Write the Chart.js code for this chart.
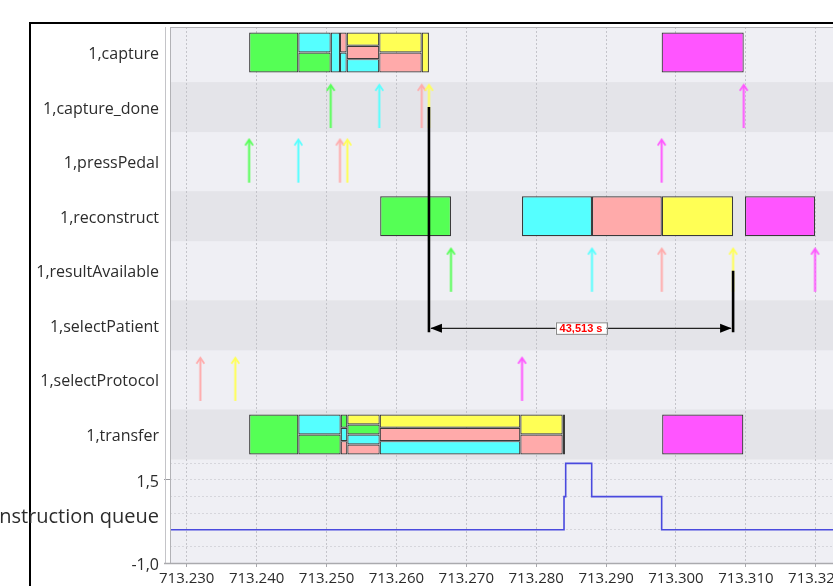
<!DOCTYPE html>
<html>
<head>
<meta charset="utf-8">
<title>Trace view</title>
<script src="https://cdn.jsdelivr.net/npm/chart.js@4/dist/chart.umd.min.js"></script>
<style>
  html, body { margin: 0; padding: 0; width: 833px; height: 586px; overflow: hidden; background: #fff; }
  #wrap { position: relative; width: 960px; height: 586px; }
  canvas { display: block; }
</style>
</head>
<body>
<div id="wrap"><canvas id="trace" width="960" height="586"></canvas></div>
<script>
// ---- data ---------------------------------------------------------------
const rowNames = ['1,capture', '1,capture_done', '1,pressPedal', '1,reconstruct',
                  '1,resultAvailable', '1,selectPatient', '1,selectProtocol', '1,transfer'];

// time slices of the shared resources: start, end, job ids from top lane to bottom lane
const captureSlices = [
  [713238.93, 713245.97, [0]],
  [713245.97, 713250.60, [1, 0]],
  [713250.60, 713251.93, [1]],
  [713251.93, 713252.89, [2, 1]],
  [713252.89, 713257.55, [3, 2, 1]],
  [713257.55, 713263.62, [3, 2]],
  [713263.62, 713264.657, [3]],
  [713297.95, 713309.69, [4]]
];
const transferSlices = [
  [713238.93, 713245.97, [0]],
  [713245.97, 713252.03, [1, 0]],
  [713252.03, 713252.98, [0, 1, 2]],
  [713252.98, 713257.61, [3, 0, 1, 2]],
  [713257.61, 713277.73, [3, 2, 1]],
  [713277.73, 713283.79, [3, 2]],
  [713283.79, 713284.12, [3]],
  [713298.02, 713309.63, [4]]
];
// reconstruct runs: start, end, job id
const reconstructRuns = [
  [713257.68, 713267.81, 0],
  [713277.97, 713287.98, 1],
  [713287.98, 713297.97, 2],
  [713297.97, 713308.17, 3],
  [713309.87, 713319.89, 4]
];
// events: time, job id
const captureDone     = [[713250.60, 0], [713257.55, 1], [713263.62, 2], [713264.657, 3], [713309.69, 4]];
const pressPedal      = [[713238.93, 0], [713245.97, 1], [713251.93, 2], [713252.98, 3], [713297.95, 4]];
const resultAvailable = [[713267.81, 0], [713287.98, 1], [713297.97, 2], [713308.17, 3], [713319.89, 4]];
const selectProtocol  = [[713231.95, 2], [713236.95, 3], [713277.97, 4]];

// reconstruction queue length over time
const queueTimes  = [713227.61, 713283.98, 713284.22, 713287.94, 713297.95, 713337.77];
const queueLevels = [0, 1, 2, 1, 0, 0];

const xTicks = [713230, 713240, 713250, 713260, 713270, 713280, 713290, 713300, 713310, 713320, 713330];
const queueTicks = [-1, -0.5, 0, 0.5, 1, 1.5, 2];
const queueTickText = ['-1,0', '', '', '', '', '1,5', ''];
const queueName = 'reconstruction queue';
const queueNameAt = 0.45;

// measured interval (capture_done -> resultAvailable of the same job)
const measureFrom = 713264.657;
const measureTo = 713308.170;

// ---- styling ------------------------------------------------------------
const jobColors = ['#55ff55', '#55ffff', '#ffaaaa', '#ffff55', '#ff55ff'];
const FONT = "'Open Sans', 'Noto Sans', sans-serif";
const TEXT = '#2c2c2c';

const X_MIN = 713227.61, X_MAX = 713337.77;
const ROW_MIN = -0.467, ROW_MAX = 7.486, ROWS_PX = 434;
const Q_MIN = -1, Q_MAX = 2.072, QUEUE_PX = 102;
const UNIT_PER_PX = (ROW_MAX - ROW_MIN) / ROWS_PX;
const BAR_PX = 40;                    // height of a resource block
const BAND_PX = 50;                   // height of a shaded row band
const BLOCK = BAR_PX * UNIT_PER_PX;

Chart.defaults.font.family = FONT;
Chart.defaults.font.size = 15;
Chart.defaults.color = TEXT;

// arrow glyphs used as point styles for events
function makeArrow(color) {
  const c = document.createElement('canvas');
  c.width = 11; c.height = 48;
  const g = c.getContext('2d');
  g.strokeStyle = color;
  g.lineCap = 'butt';
  g.lineWidth = 2;
  g.beginPath(); g.moveTo(5.5, 3); g.lineTo(5.5, 45); g.stroke();
  g.lineWidth = 1.7;
  g.beginPath(); g.moveTo(1.6, 7.8); g.lineTo(5.5, 1.8); g.lineTo(9.4, 7.8); g.stroke();
  return c;
}
const arrowImages = jobColors.map(makeArrow);

// split the stacked slices into lanes, grouped by lane count
const laneSets = {};
function addSlices(row, slices) {
  slices.forEach(([s, e, ids]) => {
    const n = ids.length;
    ids.forEach((job, k) => {
      (laneSets[n] = laneSets[n] || []).push({
        x: [s, e], y: row - BLOCK / 2 + (k + 0.5) * BLOCK / n, job
      });
    });
  });
}
addSlices(rowNames.indexOf('1,capture'), captureSlices);
addSlices(rowNames.indexOf('1,transfer'), transferSlices);
reconstructRuns.forEach(([s, e, job]) => {
  laneSets[1].push({ x: [s, e], y: rowNames.indexOf('1,reconstruct'), job });
});

const barDatasets = Object.keys(laneSets).map(n => ({
  type: 'bar',
  indexAxis: 'y',
  data: laneSets[n],
  xAxisID: 'x',
  yAxisID: 'rows',
  grouped: false,
  barThickness: BAR_PX / Number(n),
  backgroundColor: c => jobColors[c.raw.job],
  borderColor: '#3a3a3a',
  borderWidth: 1.2,
  borderSkipped: false,
  inflateAmount: 0
}));

const eventRows = [
  ['1,capture_done', captureDone],
  ['1,pressPedal', pressPedal],
  ['1,resultAvailable', resultAvailable],
  ['1,selectProtocol', selectProtocol]
];
const eventDataset = {
  type: 'scatter',
  data: eventRows.flatMap(([name, evs]) =>
    evs.map(([t, job]) => ({ x: t, y: rowNames.indexOf(name), job }))),
  xAxisID: 'x',
  yAxisID: 'rows',
  pointStyle: c => arrowImages[c.raw.job],
  pointRadius: 4
};

const queueDataset = {
  type: 'line',
  data: queueTimes.map((t, i) => ({ x: t, y: queueLevels[i] })),
  xAxisID: 'x',
  yAxisID: 'queue',
  stepped: true,
  borderColor: '#4a4ade',
  borderWidth: 1.6,
  pointRadius: 0,
  fill: false
};

function fmtThousands(v) {
  const n = Math.round(v);
  return Math.floor(n / 1000) + '.' + String(n % 1000).padStart(3, '0');
}

// backgrounds, frame and the interval measurement
const tracePainter = {
  id: 'tracePainter',
  beforeDraw(chart) {
    const { ctx, chartArea: a, scales } = chart;
    ctx.save();
    ctx.fillStyle = '#ffffff';
    ctx.fillRect(0, 0, chart.width, chart.height);
    ctx.fillStyle = '#000000';
    ctx.fillRect(29, 22, chart.width, 2);
    ctx.fillRect(29, 22, 2, chart.height);
    ctx.fillStyle = '#efeff4';
    ctx.fillRect(a.left, a.top, a.width, a.height);
    const r = scales.rows;
    const half = BAND_PX * UNIT_PER_PX / 2;
    ctx.fillStyle = '#e4e4e9';
    for (let i = 1; i < rowNames.length; i += 2) {
      const y0 = r.getPixelForValue(i - half), y1 = r.getPixelForValue(i + half);
      ctx.fillRect(a.left, y0, a.width, y1 - y0);
    }
    ctx.restore();
  },
  afterDatasetsDraw(chart) {
    const { ctx, scales } = chart;
    const x = scales.x, r = scales.rows;
    const x1 = x.getPixelForValue(measureFrom), x2 = x.getPixelForValue(measureTo);
    const yLine = r.getPixelForValue(rowNames.indexOf('1,selectPatient')) + 3;
    const yFoot = yLine + 4;
    ctx.save();
    ctx.strokeStyle = '#000';
    ctx.lineWidth = 2.6;
    ctx.beginPath();
    ctx.moveTo(x1, r.getPixelForValue(rowNames.indexOf('1,capture_done')));
    ctx.lineTo(x1, yFoot);
    ctx.moveTo(x2, r.getPixelForValue(rowNames.indexOf('1,resultAvailable')));
    ctx.lineTo(x2, yFoot);
    ctx.stroke();
    ctx.lineWidth = 1.3;
    ctx.strokeStyle = '#222';
    ctx.beginPath();
    ctx.moveTo(x1 + 2, yLine); ctx.lineTo(x2 - 2, yLine);
    ctx.stroke();
    ctx.fillStyle = '#000';
    ctx.beginPath();
    ctx.moveTo(x1 + 1.5, yLine); ctx.lineTo(x1 + 13, yLine - 4.5); ctx.lineTo(x1 + 13, yLine + 4.5); ctx.closePath();
    ctx.moveTo(x2 - 1.5, yLine); ctx.lineTo(x2 - 13, yLine - 4.5); ctx.lineTo(x2 - 13, yLine + 4.5); ctx.closePath();
    ctx.fill();
    const label = (measureTo - measureFrom).toFixed(3).replace('.', ',') + ' s';
    ctx.font = "bold 11px 'Liberation Sans', Arial, sans-serif";
    const w = ctx.measureText(label).width + 8;
    const cx = (x1 + x2) / 2;
    ctx.fillStyle = '#ffffff';
    ctx.fillRect(cx - w / 2, yLine - 6, w, 12);
    ctx.strokeStyle = '#8a8a8a';
    ctx.lineWidth = 1;
    ctx.strokeRect(Math.round(cx - w / 2) + 0.5, yLine - 5.5, Math.round(w), 11.5);
    ctx.fillStyle = '#ff0000';
    ctx.textAlign = 'center';
    ctx.textBaseline = 'middle';
    ctx.fillText(label, cx, yLine + 0.5);
    ctx.restore();
  },
  afterDraw(chart) {
    const { ctx, chartArea: a } = chart;
    ctx.save();
    ctx.strokeStyle = '#c4c4c8';
    ctx.lineWidth = 1;
    ctx.beginPath();
    ctx.moveTo(a.left - 4.5, a.top); ctx.lineTo(a.left - 4.5, a.bottom);
    ctx.stroke();
    ctx.strokeStyle = '#b2b2b6';
    ctx.strokeRect(a.left + 0.5, a.top + 0.5, a.width, a.height);
    ctx.lineWidth = 1.5;
    ctx.strokeStyle = '#aaaaae';
    ctx.beginPath();
    ctx.moveTo(a.left - 6, a.bottom + 0.5); ctx.lineTo(a.right, a.bottom + 0.5);
    ctx.stroke();
    ctx.restore();
  }
};

new Chart(document.getElementById('trace'), {
  type: 'scatter',
  data: { datasets: [...barDatasets, eventDataset, queueDataset] },
  plugins: [tracePainter],
  options: {
    responsive: false,
    devicePixelRatio: 1,
    animation: false,
    events: [],
    layout: { padding: { left: 0, top: 27, right: 20, bottom: 0 } },
    plugins: { legend: { display: false }, tooltip: { enabled: false } },
    scales: {
      x: {
        type: 'linear', position: 'bottom', min: X_MIN, max: X_MAX,
        afterBuildTicks: s => { s.ticks = xTicks.map(v => ({ value: v })); },
        afterFit: s => { s.height = 23; },
        ticks: { autoSkip: false, maxRotation: 0, padding: 3, color: TEXT, callback: v => fmtThousands(v) },
        grid: { color: '#c4c4ca', lineWidth: 1, tickLength: 4, tickColor: '#a8a8ac', tickWidth: 1, tickBorderDash: [] },
        border: { display: false, dash: [2, 2] }
      },
      queue: {
        type: 'linear', axis: 'y', position: 'left', stack: 'left', stackWeight: QUEUE_PX, weight: 0,
        min: Q_MIN, max: Q_MAX,
        afterBuildTicks: s => {
          s.ticks = [...queueTicks, queueNameAt].sort((a, b) => a - b).map(v => ({ value: v }));
        },
        afterFit: s => { s.width = 170; },
        ticks: {
          autoSkip: false, padding: 5, color: TEXT, labelOffset: 2,
          font: c => ({ size: (c.tick && c.tick.value === queueNameAt) ? 20 : 16 }),
          callback: v => v === queueNameAt ? queueName : (queueTickText[queueTicks.indexOf(v)] || '')
        },
        grid: {
          color: c => (c.tick && queueTicks.includes(c.tick.value)) ? '#d6d6dc' : 'rgba(0,0,0,0)',
          tickLength: 6,
          tickColor: c => (c.tick && queueTickText[queueTicks.indexOf(c.tick.value)]) ? '#9a9a9e' : 'rgba(0,0,0,0)',
          tickBorderDash: []
        },
        border: { display: false, dash: [2, 2] }
      },
      rows: {
        type: 'linear', axis: 'y', position: 'left', stack: 'left', stackWeight: ROWS_PX, weight: 1,
        reverse: true, offset: false, min: ROW_MIN, max: ROW_MAX,
        afterBuildTicks: s => { s.ticks = rowNames.map((_, i) => ({ value: i })); },
        afterFit: s => { s.width = 170; },
        ticks: { autoSkip: false, padding: 3, color: TEXT, font: { size: 16 }, labelOffset: 2, callback: v => rowNames[v] },
        grid: { display: false },
        border: { display: false }
      }
    }
  }
});
</script>
</body>
</html>
